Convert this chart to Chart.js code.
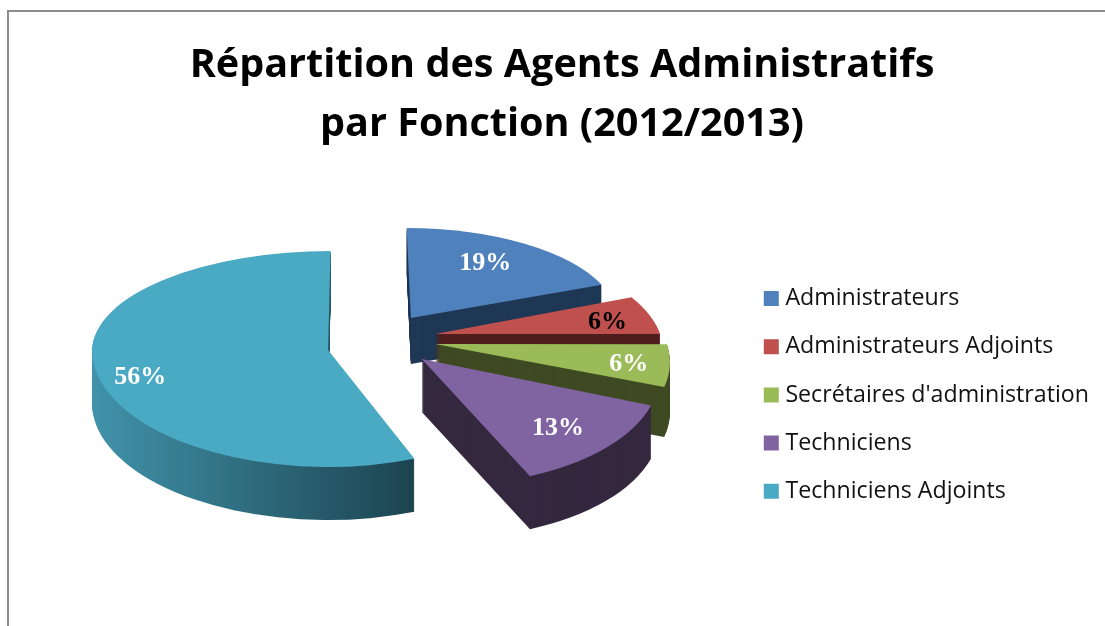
<!DOCTYPE html>
<html lang="fr">
<head>
<meta charset="utf-8">
<title>Répartition des Agents Administratifs</title>
<script src="https://cdn.jsdelivr.net/npm/chart.js@4"></script>
<style>
    html, body { margin: 0; padding: 0; background: #fff; overflow: hidden; }
    #frame {
        position: absolute; left: 7px; top: 10px; width: 1200px; height: 800px;
        border-top: 2px solid #8c8c8c; border-left: 2px solid #8c8c8c;
    }
    #chart { position: absolute; left: 25px; top: 0; }
</style>
</head>
<body>
<div id="frame"></div>
<canvas id="chart" width="1074" height="626"></canvas>
<script>
// Data
const titleLines = ['Répartition des Agents Administratifs', 'par Fonction (2012/2013)'];
const categories = ['Administrateurs', 'Administrateurs Adjoints', "Secrétaires d'administration", 'Techniciens', 'Techniciens Adjoints'];
const shares = [19, 6, 6, 13, 56];

// Colours
const topColors = ['#4f81bd', '#c0504d', '#9bbb59', '#8064a2', '#4aa9c3'];
const wallColors = ['#1f3855', '#4f1d1c', '#3f4a23', '#34283f', '#2f7186'];
const labelColors = ['#fff', '#000', '#fff', '#fff', '#fff'];

// 3D look of the pie
const PIE_X = 360;
const PIE_Y = 339;
const EXPLODE_TILT = 0.55;
const explode = [46, 51, 51, 52, 58];
const apexDrop = [0, 0, 0, 0, 5];
const sliceRx = [207, 225, 232, 238, 236];
const ryBack = [90, 100, 95, 95, 99];
const ryFront = [118, 118, 117, 126, 117];
const shearBack = [0.046, 0.35, 0, 0, -0.03];
const shearFront = [0, 0, 0.31, 0.175, 0];
const wallDepth = [46, 46, 50, 53, 53];
const labelReach = [0.64, 0.78, 0.85, 0.81, 0.81];
const labelDrop = [-7, 3, 2, -3, 10];

// Where the tip of a slice lands once the pie is exploded and tilted
function sliceApex(el, i) {
    const mid = (el.startAngle + el.endAngle) / 2;
    return {
        x: PIE_X + Math.cos(mid) * explode[i],
        y: Math.round(PIE_Y + Math.sin(mid) * explode[i] * EXPLODE_TILT) + apexDrop[i]
    };
}

// Paint one slice through its own arc element, squashed into the tilted view
function paintSlice(ctx, el, i, drop, color) {
    const off = el.options.offset / 4;
    const mid = (el.startAngle + el.endAngle) / 2;
    const pivotX = el.x + Math.cos(mid) * off;
    const pivotY = el.y + Math.sin(mid) * off;
    // Same radius the arc element ends up drawing with
    const r = el.outerRadius + off * (1 - Math.sin(Math.min(Math.PI, el.circumference)));
    const apex = sliceApex(el, i);
    const ax = apex.x;
    const ay = apex.y + drop;
    const saved = el.options;

    [0, 1].forEach(half => {
        ctx.save();
        ctx.beginPath();
        if (half === 0) ctx.rect(0, 0, 1074, ay);
        else ctx.rect(0, ay, 1074, 626);
        ctx.clip();
        ctx.translate(ax, ay);
        ctx.transform(1, 0, half === 0 ? shearBack[i] : shearFront[i], 1, 0, 0);
        ctx.scale(sliceRx[i] / r, (half === 0 ? ryBack[i] : ryFront[i]) / r);
        ctx.translate(-pivotX, -pivotY);

        let fill = color;
        if (i === 4 && drop > 0) {
            // Teal wall fades from left to right
            const toUser = x => pivotX + (x - ax) * r / sliceRx[i];
            fill = ctx.createLinearGradient(toUser(ax - sliceRx[i]), 0, toUser(ax + sliceRx[i] * Math.cos(el.startAngle)), 0);
            fill.addColorStop(0, '#4193ab');
            fill.addColorStop(1, '#1c4450');
        }
        el.options = Object.create(saved);
        el.options.backgroundColor = fill;
        el.draw(ctx);
        el.options = saved;
        ctx.restore();
    });
}

const pie3d = {
    id: 'pie3d',
    beforeDatasetsDraw(chart) {
        const ctx = chart.ctx;
        const arcs = chart.getDatasetMeta(0).data;
        // Back to front
        [4, 0, 1, 2, 3].forEach(i => {
            for (let k = wallDepth[i]; k > 0; k--) {
                paintSlice(ctx, arcs[i], i, k, wallColors[i]);
            }
            paintSlice(ctx, arcs[i], i, 0, topColors[i]);
        });

        // Percent labels
        ctx.save();
        ctx.font = 'bold 26px "Liberation Serif"';
        ctx.textAlign = 'center';
        ctx.textBaseline = 'middle';
        arcs.forEach((el, i) => {
            const mid = (el.startAngle + el.endAngle) / 2;
            const c = Math.cos(mid);
            const s = Math.sin(mid);
            const apex = sliceApex(el, i);
            const ry = s < 0 ? ryBack[i] : ryFront[i];
            const x = apex.x + c * sliceRx[i] * labelReach[i];
            const y = apex.y + s * ry * labelReach[i] + labelDrop[i];
            ctx.fillStyle = labelColors[i];
            ctx.fillText(shares[i] + '%', x, y);
        });
        ctx.restore();
        return false;
    }
};

new Chart(document.getElementById('chart'), {
    type: 'pie',
    data: {
        labels: categories,
        datasets: [{
            data: shares,
            backgroundColor: topColors,
            borderWidth: 0,
            // kept small: the arc element narrows its angle as the offset grows
            offset: explode.map(d => d / 5)
        }]
    },
    plugins: [pie3d],
    options: {
        responsive: false,
        animation: false,
        plugins: {
            title: {
                display: true,
                text: titleLines,
                color: '#000',
                font: { family: '"Open Sans"', size: 39.6, weight: 'bold', lineHeight: 1.5 },
                padding: { top: 36, bottom: 9 }
            },
            legend: {
                position: 'right',
                fullSize: false,
                labels: {
                    color: '#111',
                    font: { family: '"Open Sans"', size: 23.2 },
                    usePointStyle: true,
                    pointStyle: 'rect',
                    boxWidth: 5,
                    boxHeight: 15,
                    padding: 25
                }
            },
            tooltip: { enabled: false }
        }
    }
});
</script>
</body>
</html>
